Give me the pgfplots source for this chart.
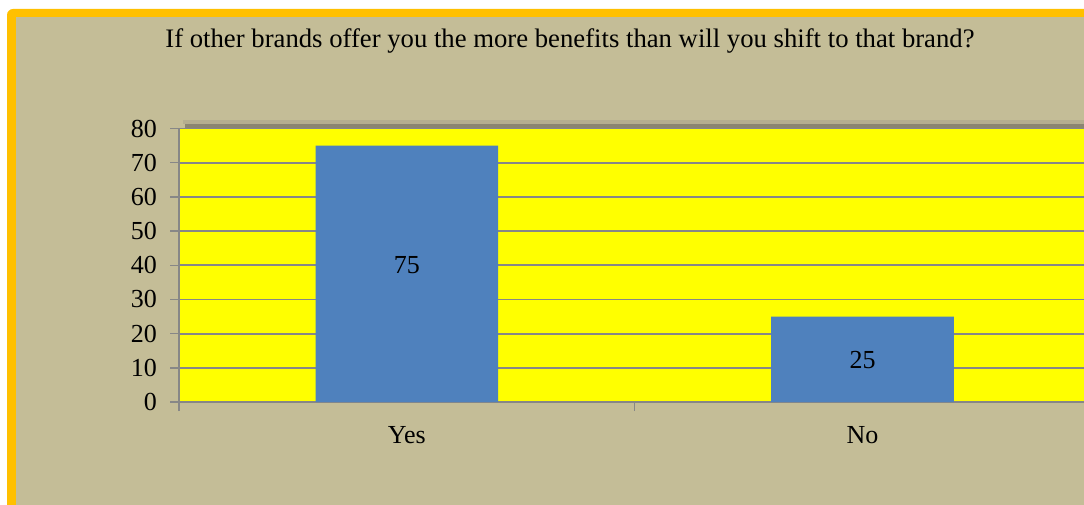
\documentclass[border=0pt]{standalone}
\usepackage{pgfplots}
\pgfplotsset{compat=1.18}
\usepackage{fontspec}
\setmainfont{Liberation Serif}
\definecolor{khaki}{HTML}{C4BD97}
\definecolor{frameorange}{HTML}{FFC000}
\definecolor{plotyellow}{HTML}{FFFF00}
\definecolor{barblue}{HTML}{4F81BD}
\definecolor{gridgray}{HTML}{878787}
\definecolor{shadowdark}{HTML}{8B8571}
\definecolor{shadowlight}{HTML}{B5AE8F}
\begin{document}
\begin{tikzpicture}[x=1pt,y=1pt]
\begin{scope}
\clip (0,0) rectangle (1084,504);
\fill[white] (0,0) rectangle (1084,504);
\fill[frameorange, rounded corners=6pt] (7,-30) rectangle (1200,495);
\fill[khaki] (16,-30) rectangle (1200,487);
\node[font=\fontsize{26.7}{30}\selectfont, anchor=base, inner sep=0pt] at (570,456)
  {If other brands offer you the more benefits than will you shift to that brand?};
\fill[shadowlight] (183,380) rectangle (1200,384);
\fill[shadowdark] (185,375) rectangle (1200,380);
\begin{axis}[
  at={(179pt,102pt)}, anchor=south west,
  scale only axis, width=911.4pt, height=273.5pt,
  xmin=-0.5, xmax=1.5, ymin=0, ymax=80,
  ytick={0,10,...,80},
  xtick={-0.5,0.5,1.5}, xticklabels={Yes,No}, x tick label as interval,
  axis lines=left,
  axis line style={draw=gridgray, line width=1.5pt, -},
  tick align=outside, major tick length=9pt,
  every tick/.style={draw=gridgray, line width=1.5pt},
  ymajorgrids, grid style={draw=gridgray, line width=1.8pt},
  axis background/.style={fill=plotyellow},
  /pgf/number format/assume math mode=true,
  tick label style={font=\fontsize{26}{30}\selectfont},
  yticklabel style={inner sep=0pt, anchor=east, xshift=-13pt},
  xticklabel style={inner sep=0pt, anchor=north, yshift=-15pt},
  clip=false,
]
\addplot[ybar, bar width=182.7pt, fill=barblue, draw=none] coordinates {(0,75) (1,25)};
\node[font=\fontsize{26}{30}\selectfont, inner sep=0pt] at (axis cs:0,40) {75};
\node[font=\fontsize{26}{30}\selectfont, inner sep=0pt] at (axis cs:1,12.2) {25};
\end{axis}
\end{scope}
\pgfresetboundingbox
\path[use as bounding box] (0,0) rectangle (1084,504);
\end{tikzpicture}
\end{document}
